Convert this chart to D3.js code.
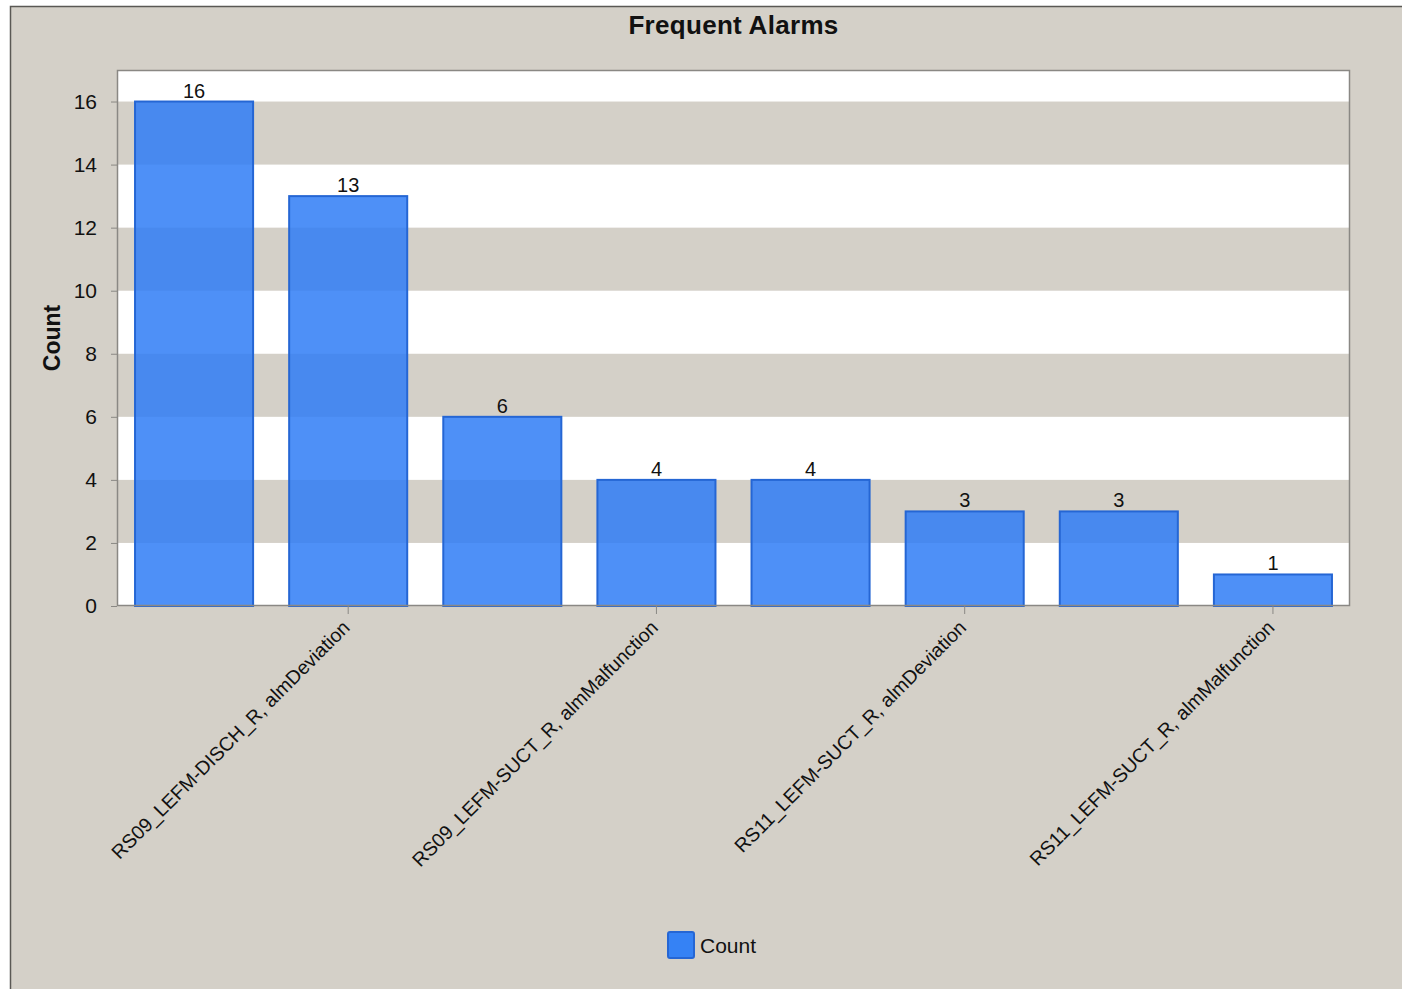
<!DOCTYPE html>
<html>
<head>
<meta charset="utf-8">
<script src="https://cdn.jsdelivr.net/npm/d3@7"></script>
<style>
    body { margin: 0; background: #ffffff; }
    svg { display: block; font-family: "Liberation Sans", Arial, sans-serif; }
</style>
</head>
<body>
<div id="chart"></div>
<script>
// data (odd labels are hidden in the original, names guessed)
const categories = [
    "RS09_LEFM-DISCH_R, almMalfunction",
    "RS09_LEFM-DISCH_R, almDeviation",
    "RS09_LEFM-SUCT_R, almDeviation",
    "RS09_LEFM-SUCT_R, almMalfunction",
    "RS11_LEFM-DISCH_R, almDeviation",
    "RS11_LEFM-SUCT_R, almDeviation",
    "RS11_LEFM-DISCH_R, almMalfunction",
    "RS11_LEFM-SUCT_R, almMalfunction"
];
const counts = [16, 13, 6, 4, 4, 3, 3, 1];
const yTicks = [0, 2, 4, 6, 8, 10, 12, 14, 16];
const yMax = 17;
const seriesName = "Count";
const chartTitle = "Frequent Alarms";

function main() {
    const W = 1402, H = 989;
    const plot = {left: 117, right: 1350, top: 70, bottom: 606};

    const svg = d3.select("#chart")
        .append("svg")
        .attr("width", W)
        .attr("height", H);

    // panel background with the dark left / top edge
    svg.append("rect")
        .attr("x", 10).attr("y", 6)
        .attr("width", W - 10).attr("height", H - 6)
        .attr("fill", "#d4d0c8");
    svg.append("path")
        .attr("d", `M10.5,${H} L10.5,6.5 L${W},6.5`)
        .attr("fill", "none")
        .attr("stroke", "#5a5854")
        .attr("stroke-width", 1.5);

    const xScale = d3.scaleBand()
        .domain(categories)
        .range([plot.left, plot.right])
        .paddingInner(0.234)
        .paddingOuter(0.117);

    const yScale = d3.scaleLinear()
        .domain([0, yMax])
        .range([plot.bottom, plot.top]);

    // plot area: white, with beige stripes 2-4, 6-8, 10-12, 14-16
    svg.append("rect")
        .attr("x", plot.left).attr("y", plot.top)
        .attr("width", plot.right - plot.left)
        .attr("height", plot.bottom - plot.top)
        .attr("fill", "#ffffff");

    const stripes = yTicks.filter(function(t, i) { return i % 2 == 1; });
    svg.selectAll(".stripe")
        .data(stripes)
        .enter()
        .append("rect")
        .attr("class", "stripe")
        .attr("x", plot.left)
        .attr("y", function(t) { return yScale(t + 2); })
        .attr("width", plot.right - plot.left)
        .attr("height", function(t) { return yScale(t) - yScale(t + 2); })
        .attr("fill", "#d4d0c8");

    // bars
    svg.selectAll(".bar")
        .data(counts)
        .enter()
        .append("rect")
        .attr("class", "bar")
        .attr("x", function(d, i) { return xScale(categories[i]); })
        .attr("y", function(d) { return yScale(d); })
        .attr("width", xScale.bandwidth())
        .attr("height", function(d) { return yScale(0) - yScale(d); })
        .attr("fill", "#2f7cf6")
        .attr("fill-opacity", 0.85)
        .attr("stroke", "#2566d4")
        .attr("stroke-width", 2);

    // value labels on top of bars
    svg.selectAll(".valueLabel")
        .data(counts)
        .enter()
        .append("text")
        .attr("class", "valueLabel")
        .attr("x", function(d, i) { return xScale(categories[i]) + xScale.bandwidth() / 2; })
        .attr("y", function(d) { return yScale(d) - 4; })
        .attr("text-anchor", "middle")
        .style("font-size", "20px")
        .attr("fill", "#111")
        .text(function(d) { return d; });

    // plot border
    svg.append("rect")
        .attr("x", plot.left + 0.5).attr("y", plot.top + 0.5)
        .attr("width", plot.right - plot.left - 1)
        .attr("height", plot.bottom - plot.top - 1)
        .attr("fill", "none")
        .attr("stroke", "#8a8884")
        .attr("stroke-width", 1.5);

    // y axis
    const yAxis = svg.append("g")
        .attr("transform", `translate(${plot.left}, 0)`)
        .call(d3.axisLeft(yScale)
            .tickValues(yTicks)
            .tickSize(6)
            .tickPadding(14)
            .tickFormat(d3.format("d")));
    yAxis.select(".domain").remove();
    yAxis.selectAll("line").attr("stroke", "#8a8884");
    yAxis.selectAll("text")
        .style("font-family", "Liberation Sans, Arial, sans-serif")
        .style("font-size", "21px")
        .attr("fill", "#111");

    // x axis - only every other label shown
    const xAxis = svg.append("g")
        .attr("transform", `translate(0, ${plot.bottom})`)
        .call(d3.axisBottom(xScale)
            .tickValues(categories.filter(function(c, i) { return i % 2 == 1; }))
            .tickSize(8)
            .tickFormat(function(d) { return d; }));
    xAxis.select(".domain").remove();
    xAxis.selectAll("line").attr("stroke", "#8a8884");
    xAxis.selectAll("text")
        .style("font-family", "Liberation Sans, Arial, sans-serif")
        .style("font-size", "19.5px")
        .attr("fill", "#111")
        .attr("text-anchor", "end")
        .attr("dy", "0.35em")
        .attr("y", 0)
        .attr("transform", "translate(-2, 18) rotate(-45)");

    // title
    svg.append("text")
        .attr("x", (plot.left + plot.right) / 2)
        .attr("y", 34)
        .attr("text-anchor", "middle")
        .style("font-size", "26px")
        .style("font-weight", "bold")
        .style("letter-spacing", "0.3px")
        .attr("fill", "#111")
        .text(chartTitle);

    // y axis title
    svg.append("text")
        .attr("transform", `translate(60, ${(plot.top + plot.bottom) / 2}) rotate(-90)`)
        .attr("text-anchor", "middle")
        .style("font-size", "23px")
        .style("font-weight", "bold")
        .attr("fill", "#111")
        .text(seriesName);

    // legend
    const legend = svg.append("g")
        .attr("transform", "translate(668, 932)");
    legend.append("rect")
        .attr("width", 26).attr("height", 26)
        .attr("rx", 2)
        .attr("fill", "#3582f5")
        .attr("stroke", "#2566d4")
        .attr("stroke-width", 2);
    legend.append("text")
        .attr("x", 32)
        .attr("y", 21)
        .style("font-size", "21px")
        .attr("fill", "#111")
        .text(seriesName);
}

main();
</script>
</body>
</html>
